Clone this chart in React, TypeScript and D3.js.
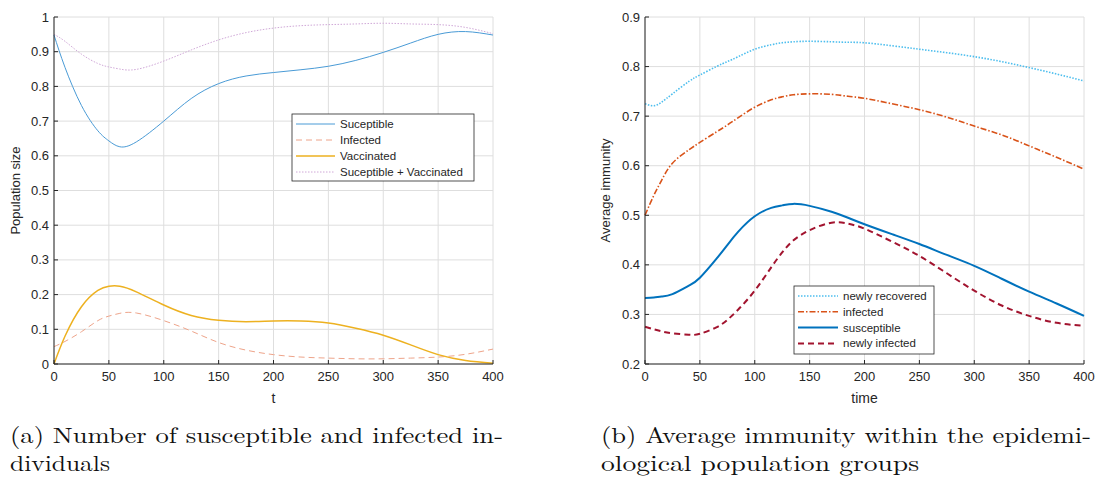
import * as React from "react";
import * as d3 from "d3";

// left panel: population sizes
const tLeft = [0, 10, 25, 40, 50, 60, 75, 100, 125, 150, 175, 200, 225, 250, 275, 300, 325, 350, 375, 400];
const suceptible = [0.948, 0.855, 0.745, 0.672, 0.643, 0.626, 0.64, 0.7, 0.765, 0.808, 0.83, 0.84, 0.848, 0.858, 0.875, 0.898, 0.925, 0.95, 0.958, 0.948];
const infected = [0.05, 0.065, 0.093, 0.125, 0.138, 0.146, 0.147, 0.125, 0.095, 0.062, 0.04, 0.027, 0.02, 0.017, 0.015, 0.015, 0.017, 0.02, 0.028, 0.043];
const vaccinated = [0, 0.08, 0.165, 0.212, 0.224, 0.224, 0.208, 0.17, 0.14, 0.126, 0.122, 0.124, 0.124, 0.118, 0.103, 0.083, 0.055, 0.027, 0.01, 0.002];
const sucPlusVac = [0.95, 0.93, 0.893, 0.866, 0.856, 0.85, 0.849, 0.873, 0.905, 0.934, 0.955, 0.968, 0.975, 0.978, 0.98, 0.982, 0.98, 0.978, 0.97, 0.952];

// right panel: average immunity
const tRight = [0, 8, 15, 25, 40, 50, 65, 75, 85, 100, 115, 125, 135, 150, 170, 185, 200, 225, 250, 275, 300, 325, 350, 375, 400];
const newlyRecovered = [0.725, 0.721, 0.728, 0.745, 0.77, 0.783, 0.8, 0.81, 0.82, 0.835, 0.844, 0.848, 0.85, 0.851, 0.85, 0.849, 0.848, 0.842, 0.835, 0.828, 0.82, 0.81, 0.798, 0.785, 0.771];
const infectedImm = [0.5, 0.54, 0.57, 0.605, 0.632, 0.647, 0.668, 0.682, 0.697, 0.718, 0.733, 0.739, 0.743, 0.745, 0.744, 0.74, 0.736, 0.725, 0.713, 0.698, 0.68, 0.662, 0.64, 0.617, 0.593];
const susceptibleImm = [0.333, 0.334, 0.336, 0.341, 0.358, 0.374, 0.412, 0.44, 0.467, 0.498, 0.515, 0.52, 0.523, 0.519, 0.507, 0.495, 0.482, 0.462, 0.442, 0.42, 0.398, 0.372, 0.346, 0.322, 0.297];
const newlyInfected = [0.275, 0.27, 0.266, 0.262, 0.259, 0.261, 0.274, 0.289, 0.31, 0.348, 0.395, 0.425, 0.449, 0.47, 0.485, 0.483, 0.473, 0.447, 0.418, 0.383, 0.348, 0.318, 0.297, 0.283, 0.277];

const xTicks = [0, 50, 100, 150, 200, 250, 300, 350, 400];
const leftYTicks = [0, 0.1, 0.2, 0.3, 0.4, 0.5, 0.6, 0.7, 0.8, 0.9, 1];
const rightYTicks = [0.2, 0.3, 0.4, 0.5, 0.6, 0.7, 0.8, 0.9];

const leftSeries = [
  { name: "Suceptible", values: suceptible, color: "#4a9bd6", width: 1, dash: "" },
  { name: "Infected", values: infected, color: "#eea48a", width: 1, dash: "6,4" },
  { name: "Vaccinated", values: vaccinated, color: "#edb120", width: 1.5, dash: "" },
  { name: "Suceptible + Vaccinated", values: sucPlusVac, color: "#d0a8d8", width: 1, dash: "1.5,1.5" },
];

const rightSeries = [
  { name: "newly recovered", values: newlyRecovered, color: "#4dbeee", width: 1.6, dash: "1.5,1.5" },
  { name: "infected", values: infectedImm, color: "#d95319", width: 1.6, dash: "6,2,1.5,2" },
  { name: "susceptible", values: susceptibleImm, color: "#0072bd", width: 2, dash: "" },
  { name: "newly infected", values: newlyInfected, color: "#a2142f", width: 2, dash: "6,4" },
];

const FONT = "'Liberation Sans', Arial, sans-serif";
const AX = "#262626";
const GRID = "#dedede";

const Panel = ({ x0, x1, y0, y1, t, series, yTicks, yDomain, xLabel, yLabel, yLabelX, legend, fmt }) => {
  const x = d3.scaleLinear().domain([0, 400]).range([x0, x1]);
  const y = d3.scaleLinear().domain(yDomain).range([y1, y0]);
  const line = (vals) =>
    d3
      .line<number>()
      .x((_, i) => x(t[i]))
      .y((d) => y(d))
      .curve(d3.curveNatural)(vals);

  return (
    <g fontFamily={FONT}>
      {xTicks.map((v) => (
        <line key={"gx" + v} x1={x(v)} x2={x(v)} y1={y0} y2={y1} stroke={GRID} strokeWidth={1} />
      ))}
      {yTicks.map((v) => (
        <line key={"gy" + v} x1={x0} x2={x1} y1={y(v)} y2={y(v)} stroke={GRID} strokeWidth={1} />
      ))}
      {series.map((s) => (
        <path key={s.name} d={line(s.values)} fill="none" stroke={s.color} strokeWidth={s.width} strokeDasharray={s.dash} />
      ))}
      <line x1={x0} x2={x1} y1={y1} y2={y1} stroke={AX} strokeWidth={1} />
      <line x1={x0} x2={x0} y1={y0} y2={y1} stroke={AX} strokeWidth={1} />
      {xTicks.map((v) => (
        <g key={"tx" + v}>
          <line x1={x(v)} x2={x(v)} y1={y1} y2={y1 - 4} stroke={AX} />
          <text x={x(v)} y={y1 + 17} textAnchor="middle" fontSize={13} fill={AX}>
            {v}
          </text>
        </g>
      ))}
      {yTicks.map((v) => (
        <g key={"ty" + v}>
          <line x1={x0} x2={x0 + 4} y1={y(v)} y2={y(v)} stroke={AX} />
          <text x={x0 - 5} y={y(v) + 4.5} textAnchor="end" fontSize={13} fill={AX}>
            {fmt(v)}
          </text>
        </g>
      ))}
      <text x={(x0 + x1) / 2} y={y1 + 39} textAnchor="middle" fontSize={14} fill={AX}>
        {xLabel}
      </text>
      <text
        transform={`translate(${yLabelX},${(y0 + y1) / 2}) rotate(-90)`}
        textAnchor="middle"
        fontSize={13}
        fill={AX}
      >
        {yLabel}
      </text>
      <rect x={legend.x} y={legend.y} width={legend.w} height={legend.h} fill="white" stroke={AX} strokeWidth={0.8} />
      {series.map((s, i) => {
        const ry = legend.y + 10 + i * legend.step;
        return (
          <g key={"lg" + s.name}>
            <line x1={legend.x + 4} x2={legend.x + legend.lineW} y1={ry} y2={ry} stroke={s.color} strokeWidth={s.width} strokeDasharray={s.dash} />
            <text x={legend.x + legend.lineW + 5} y={ry + 4} fontSize={11.5} fill={AX}>
              {s.name}
            </text>
          </g>
        );
      })}
    </g>
  );
};

export default function App() {
  const width = 1095;
  const height = 478;
  const captionFont = "'Latin Modern Roman', 'CMU Serif', 'Liberation Serif', serif";

  return (
    <svg width={width} height={height} style={{ position: "absolute", left: 0, top: 0, background: "white" }}>
      <rect width={width} height={height} fill="white" />
      <Panel
        x0={54}
        x1={493}
        y0={17}
        y1={364}
        t={tLeft}
        series={leftSeries}
        yTicks={leftYTicks}
        yDomain={[0, 1]}
        xLabel="t"
        yLabel="Population size"
        yLabelX={20}
        legend={{ x: 292, y: 114, w: 182, h: 67, step: 16, lineW: 43 }}
        fmt={(v) => (v === 0 || v === 1 ? String(v) : d3.format(".1f")(v))}
      />
      <Panel
        x0={645}
        x1={1084}
        y0={17}
        y1={364}
        t={tRight}
        series={rightSeries}
        yTicks={rightYTicks}
        yDomain={[0.2, 0.9]}
        xLabel="time"
        yLabel="Average immunity"
        yLabelX={610}
        legend={{ x: 794, y: 286, w: 140, h: 68, step: 15.8, lineW: 44 }}
        fmt={(v) => d3.format(".1f")(v)}
      />
      <g fontFamily={captionFont} fontSize={22} fill="#111">
        <text x={10} y={443} textLength={493} lengthAdjust="spacingAndGlyphs">
          (a) Number of susceptible and infected in-
        </text>
        <text x={10} y={471} textLength={100} lengthAdjust="spacingAndGlyphs">
          dividuals
        </text>
        <text x={601} y={443} textLength={490} lengthAdjust="spacingAndGlyphs">
          (b) Average immunity within the epidemi-
        </text>
        <text x={601} y={471} textLength={318} lengthAdjust="spacingAndGlyphs">
          ological population groups
        </text>
      </g>
    </svg>
  );
}
